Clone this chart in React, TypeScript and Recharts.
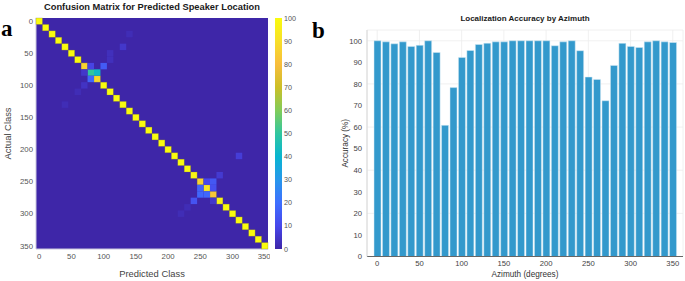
import {
  ScatterChart,
  Scatter,
  BarChart,
  Bar,
  XAxis,
  YAxis,
  CartesianGrid,
  Label,
} from "recharts"

// azimuth classes (degrees)
const azimuths = [
  0, 10, 20, 30, 40, 50, 60, 70, 80, 90, 100, 110, 120, 130, 140, 150, 160, 170,
  180, 190, 200, 210, 220, 230, 240, 250, 260, 270, 280, 290, 300, 310, 320, 330, 340, 350,
]

// localization accuracy per azimuth (%)
const accuracy = [
  100, 99.5, 98.6, 99.5, 97.4, 97.9, 100, 94.6, 60.8, 78.3, 92.3, 95.5, 98.3, 98.9, 99.5, 99.5, 100, 100,
  100, 100, 100, 97.7, 99.5, 100, 95.4, 83.2, 82.1, 72.2, 88.6, 98.8, 97.4, 96.9, 99.5, 100, 99.5, 99.2,
]

// confusion matrix diagonal (% correct per actual class)
const cmDiagonal = [
  100, 100, 100, 100, 100, 100, 100, 87, 50, 88, 100, 100, 100, 100, 100, 100, 100, 100,
  100, 100, 100, 100, 100, 100, 98, 86, 92, 83, 97, 100, 100, 100, 100, 100, 100, 100,
]

// off-diagonal confusions: [actual, predicted, %]
const cmOffDiagonal: [number, number, number][] = [
  [20, 140, 2], [40, 130, 5], [50, 110, 3], [60, 110, 3],
  [70, 80, 9], [70, 100, 15], [80, 70, 5], [80, 90, 42], [90, 80, 18],
  [100, 70, 4], [110, 60, 2], [130, 40, 2],
  [210, 310, 7], [240, 280, 6],
  [250, 260, 10], [250, 270, 14], [260, 250, 17], [260, 270, 12],
  [270, 250, 18], [270, 260, 18], [280, 240, 13], [280, 270, 5],
  [290, 230, 2], [300, 220, 2],
]

const classTicks = [0, 50, 100, 150, 200, 250, 300, 350]
const percentTicks = [0, 10, 20, 30, 40, 50, 60, 70, 80, 90, 100]

// parula colormap stops
const PARULA: [number, number, number][] = [
  [0.2422, 0.1504, 0.6603],
  [0.2803, 0.2782, 0.9221],
  [0.244, 0.4358, 0.9988],
  [0.154, 0.5902, 0.9218],
  [0.0297, 0.7082, 0.8163],
  [0.1938, 0.7758, 0.6251],
  [0.5044, 0.7993, 0.348],
  [0.8, 0.7491, 0.154],
  [0.9728, 0.7394, 0.2371],
  [0.9700, 0.8751, 0.1624],
  [0.9763, 0.9831, 0.0538],
]

function parula(v: number) {
  const t = Math.max(0, Math.min(1, v / 100)) * (PARULA.length - 1)
  const i = Math.min(Math.floor(t), PARULA.length - 2)
  const f = t - i
  const c = PARULA[i].map((a, k) => Math.round((a + (PARULA[i + 1][k] - a) * f) * 255))
  return `rgb(${c[0]},${c[1]},${c[2]})`
}

const cmCells = [
  ...azimuths.map((a, i) => ({ actual: a, predicted: a, value: cmDiagonal[i] })),
  ...cmOffDiagonal.map(([actual, predicted, value]) => ({ actual, predicted, value })),
]
const accuracyData = azimuths.map((azimuth, i) => ({ azimuth, accuracy: accuracy[i] }))
const colorbarData = [{ name: "scale", value: 100 }]

const FONT = "'Liberation Sans', Arial, sans-serif"

// heatmap layout
const HM_W = 270
const HM_H = 281
const HM_TOP = 18
const HM_RIGHT = 2
const HM_YAXIS = 36
const HM_XAXIS = 32
const CELL_W = (HM_W - HM_RIGHT - HM_YAXIS) / azimuths.length
const CELL_H = (HM_H - HM_TOP - HM_XAXIS) / azimuths.length

const HeatCell = (props: any) => {
  const { cx, cy } = props
  const value = props.payload?.value ?? props.value
  return (
    <rect
      x={cx - CELL_W / 2}
      y={cy - CELL_H / 2}
      width={CELL_W}
      height={CELL_H}
      fill={parula(value)}
      stroke={value > 60 ? "rgba(120,110,60,0.45)" : "none"}
      strokeWidth={0.6}
    />
  )
}

function ConfusionMatrix() {
  const tick = { fontSize: 7.8, fill: "#555", fontFamily: FONT }
  return (
    <ScatterChart
      width={HM_W}
      height={HM_H}
      margin={{ top: HM_TOP, right: HM_RIGHT, bottom: 0, left: 0 }}
    >
      <CartesianGrid horizontal={false} vertical={false} fill={parula(0)} fillOpacity={1} />
      <XAxis
        type="number"
        dataKey="predicted"
        domain={[-5, 355]}
        ticks={classTicks}
        height={HM_XAXIS}
        tick={tick}
        tickLine={false}
        tickSize={3}
        tickMargin={1}
        axisLine={{ stroke: "#c9c6dd" }}
      >
        <Label value="Predicted Class" position="insideBottom" offset={4} style={{ fontSize: 9.4, fill: "#444", fontFamily: FONT }} />
      </XAxis>
      <YAxis
        type="number"
        dataKey="actual"
        reversed
        domain={[-5, 355]}
        ticks={classTicks}
        width={HM_YAXIS}
        tick={tick}
        tickLine={false}
        tickSize={1}
        tickMargin={2}
        axisLine={{ stroke: "#c9c6dd" }}
      >
        <Label
          value="Actual Class"
          angle={-90}
          position="insideLeft"
          offset={8}
          style={{ fontSize: 9.4, fill: "#444", fontFamily: FONT, textAnchor: "middle" }}
        />
      </YAxis>
      <Scatter data={cmCells} shape={HeatCell} isAnimationActive={false} />
    </ScatterChart>
  )
}

function Colorbar() {
  return (
    <BarChart
      width={27}
      height={HM_H}
      data={colorbarData}
      margin={{ top: HM_TOP, right: 0, bottom: HM_XAXIS, left: 0 }}
      barCategoryGap={0}
    >
      <defs>
        <linearGradient id="parulaGrad" x1="0" y1="1" x2="0" y2="0">
          {PARULA.map((_, i) => (
            <stop key={i} offset={`${(i / (PARULA.length - 1)) * 100}%`} stopColor={parula((i / (PARULA.length - 1)) * 100)} />
          ))}
        </linearGradient>
      </defs>
      <XAxis dataKey="name" hide />
      <YAxis
        orientation="right"
        domain={[0, 100]}
        ticks={percentTicks}
        width={20}
        axisLine={false}
        tickLine={false}
        tickSize={1}
        tickMargin={1}
        tick={{ fontSize: 7.2, fill: "#555", fontFamily: FONT }}
      />
      <Bar dataKey="value" fill="url(#parulaGrad)" isAnimationActive={false} />
    </BarChart>
  )
}

function AccuracyChart() {
  const tick = { fontSize: 7.7, fill: "#444", fontFamily: FONT }
  return (
    <BarChart
      width={352}
      height={281}
      data={accuracyData}
      margin={{ top: 30, right: 2, bottom: 0, left: 0 }}
      barSize={7}
    >
      <CartesianGrid stroke="#ececec" strokeWidth={0.8} />
      <XAxis
        dataKey="azimuth"
        interval={4}
        padding={{ left: 6, right: 6 }}
        height={24.5}
        tick={tick}
        tickLine={false}
        tickSize={3}
        tickMargin={1}
        axisLine={{ stroke: "#666" }}
      >
        <Label value="Azimuth (degrees)" position="insideBottom" offset={4} style={{ fontSize: 8.2, fill: "#333", fontFamily: FONT }} />
      </XAxis>
      <YAxis
        domain={[0, 105]}
        ticks={percentTicks}
        width={34}
        tick={tick}
        tickLine={false}
        tickSize={2}
        tickMargin={3}
        axisLine={{ stroke: "#d8d8d8" }}
      >
        <Label
          value="Accuracy (%)"
          angle={-90}
          position="insideLeft"
          offset={12}
          style={{ fontSize: 8.2, fill: "#333", fontFamily: FONT, textAnchor: "middle" }}
        />
      </YAxis>
      <Bar dataKey="accuracy" fill="#3399cc" stroke="#d6ebf5" strokeWidth={0.5} isAnimationActive={false} />
    </BarChart>
  )
}

export default function App() {
  return (
    <div style={{ position: "absolute", left: 0, top: 0, width: 685, height: 281, background: "#fff", overflow: "hidden" }}>
      <div
        style={{
          position: "absolute", left: HM_YAXIS, top: 2.5, width: HM_W - HM_YAXIS - HM_RIGHT,
          textAlign: "center", fontFamily: FONT, fontWeight: "bold", fontSize: 9.3, lineHeight: 1, color: "#1a1a1a", whiteSpace: "nowrap",
        }}
      >
        Confusion Matrix for Predicted Speaker Location
      </div>
      <div style={{ position: "absolute", left: 0, top: 0 }}>
        <ConfusionMatrix />
      </div>
      <div style={{ position: "absolute", left: 275, top: 0 }}>
        <Colorbar />
      </div>
      <div
        style={{
          position: "absolute", left: 367, top: 15, width: 316,
          textAlign: "center", fontFamily: FONT, fontWeight: "bold", fontSize: 8, lineHeight: 1, color: "#1a1a1a", whiteSpace: "nowrap",
        }}
      >
        Localization Accuracy by Azimuth
      </div>
      <div style={{ position: "absolute", left: 333, top: 0 }}>
        <AccuracyChart />
      </div>
      <div style={{ position: "absolute", left: 1, top: 17, fontFamily: "'Liberation Serif', serif", fontWeight: "bold", fontSize: 23, lineHeight: 1 }}>
        a
      </div>
      <div style={{ position: "absolute", left: 312, top: 19, fontFamily: "'Liberation Serif', serif", fontWeight: "bold", fontSize: 23, lineHeight: 1 }}>
        b
      </div>
    </div>
  )
}
